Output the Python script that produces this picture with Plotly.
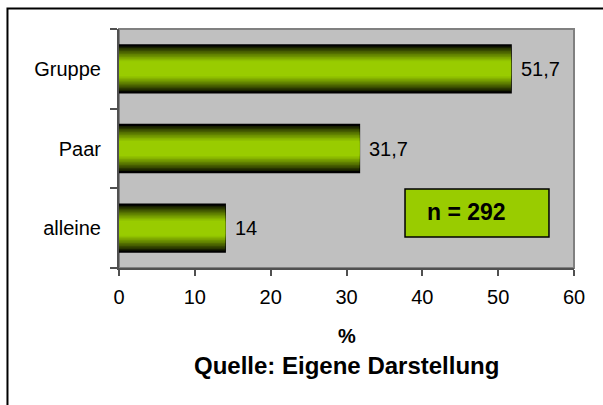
import plotly.graph_objects as go

# Data
categories = ["alleine", "Paar", "Gruppe"]
values = [14, 31.7, 51.7]
x_ticks = [0, 10, 20, 30, 40, 50, 60]
sample_note = "n = 292"
axis_title = "%"
source_note = "Quelle: Eigene Darstellung"

FONT = "Arial, Liberation Sans, sans-serif"
GREEN = (0x99, 0xCC, 0x00)
BAR_WIDTH = 0.6
BAND_PX = 80.0  # pixel height of one category band


def fmt(v):
    return f"{v:g}".replace(".", ",")


def shade(t):
    r, g, b = (int(round(c * t)) for c in GREEN)
    return f"rgb({r},{g},{b})"


fig = go.Figure()

# Vertical black-to-green gradient built from stacked bars of shrinking width
steps = [0, 1.5, 3, 4.5, 6, 7.5, 9, 10.5, 12, 13.5, 15, 16.5, 18]
for i, d in enumerate(steps):
    t = min(1.0, d / 16.0) ** 0.8
    w = BAR_WIDTH - 2 * d / BAND_PX
    fig.add_trace(go.Bar(
        y=categories, x=values, orientation="h", width=w,
        marker=dict(color="black" if i == 0 else shade(t), opacity=1,
                    line=dict(color="black", width=1.5 if i == 0 else 0)),
        hoverinfo="skip", showlegend=False,
    ))

# Value labels next to bar ends
for c, v in zip(categories, values):
    fig.add_annotation(x=v, y=c, text=fmt(v), showarrow=False,
                       xanchor="left", yanchor="middle", xshift=8,
                       font=dict(family=FONT, size=20, color="black"))

# Plot-area frame (top/right) and outer chart border
fig.add_shape(type="rect", xref="paper", yref="paper", x0=0, x1=1, y0=0, y1=1,
              line=dict(color="#808080", width=2), layer="below")
fig.add_shape(type="rect", xref="paper", yref="paper",
              x0=-0.2451, x1=1.11, y0=-0.65, y1=1.0858,
              line=dict(color="black", width=2), fillcolor="rgba(0,0,0,0)")

# Sample size box
fig.add_shape(type="rect", xref="paper", yref="paper",
              x0=0.6286, x1=0.945, y0=0.1297, y1=0.3305,
              line=dict(color="black", width=1.5), fillcolor="#99CC00")
fig.add_annotation(xref="paper", yref="paper", x=0.763, y=0.235,
                   xanchor="center", yanchor="middle",
                   text=f"<b>{sample_note}</b>", showarrow=False,
                   font=dict(family=FONT, size=23, color="black"))

# Axis title and source line
fig.add_annotation(xref="paper", yref="paper", x=0.5, y=-0.2845,
                   xanchor="center", yanchor="middle",
                   text=f"<b>{axis_title}</b>", showarrow=False,
                   font=dict(family=FONT, size=20, color="black"))
fig.add_annotation(xref="paper", yref="paper", x=0.5, y=-0.41,
                   xanchor="center", yanchor="middle",
                   text=f"<b>{source_note}</b>", showarrow=False,
                   font=dict(family=FONT, size=24, color="black"))

fig.update_layout(
    width=603, height=405,
    margin=dict(l=119, r=29, t=29, b=137),
    paper_bgcolor="white", plot_bgcolor="#C0C0C0",
    barmode="overlay", bargap=0.4,
    font=dict(family=FONT, size=20, color="black"),
    xaxis=dict(range=[0, 60], tickvals=x_ticks, ticktext=[str(v) for v in x_ticks],
               showgrid=False, zeroline=False, showline=True,
               linecolor="#505050", linewidth=2,
               ticks="outside", ticklen=6, tickcolor="#505050", tickwidth=1.5,
               ticklabelstandoff=4, fixedrange=True),
    yaxis=dict(categoryorder="array", categoryarray=categories,
               showgrid=False, zeroline=False, showline=True,
               linecolor="#505050", linewidth=2,
               ticks="outside", ticklen=7, tickcolor="#505050", tickwidth=1.5,
               tickson="boundaries", ticklabelstandoff=12, fixedrange=True),
)

fig.write_html("out.html")
